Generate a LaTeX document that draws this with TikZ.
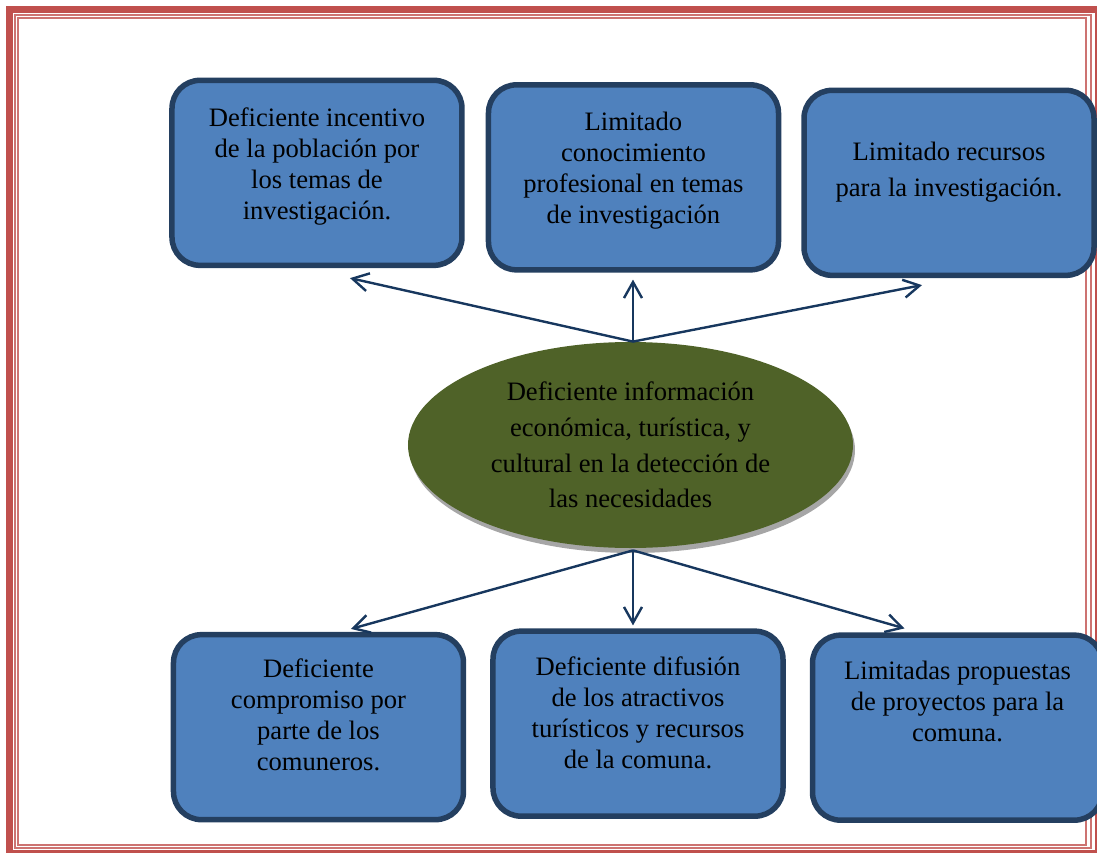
\documentclass[tikz,border=0pt]{standalone}
\usepackage{fontspec}
\setmainfont{Liberation Serif}
\usetikzlibrary{arrows.meta,positioning,shapes.geometric,shadows}
\definecolor{boxfill}{HTML}{4F81BD}
\definecolor{boxline}{HTML}{243F60}
\definecolor{olive}{HTML}{4F6228}
\definecolor{arrowblue}{HTML}{17375E}
\definecolor{framered}{HTML}{C0504D}
\tikzset{
  causebox/.style={
    draw=boxline, fill=boxfill, line width=2.75pt, rounded corners=14pt,
    minimum width=145pt, minimum height=92.5pt, align=center,
    font=\fontsize{13.3}{15.5}\selectfont, inner sep=0pt, text depth=#1,
  },
  causebox/.default=14pt,
  causeell/.style={
    ellipse, fill=olive, minimum width=222.5pt, minimum height=103pt,
    inner sep=0pt, align=center, font=\fontsize{13.3}{17.85}\selectfont,
    text depth=-4pt,
    drop shadow={shadow xshift=1pt, shadow yshift=-2.5pt, fill=black!35, opacity=1},
  },
  arrow/.style={-{Straight Barb[length=8pt,width=9pt]}, line width=1.2pt, color=arrowblue},
  framebar/.style={draw=framered, line width=#1},
}
\begin{document}
\begin{tikzpicture}
  \useasboundingbox (-315.25pt,-203.5pt) rectangle (233.25pt,222.5pt);

  % page frame
  \path[framebar=3.5pt] (-310.5pt,-204.25pt) rectangle (234pt,217.75pt);
  \path[framebar=0.9pt, draw=framered!80] (-307.75pt,-201.5pt) rectangle (230.25pt,215pt);
  \path[framebar=0.9pt, draw=framered!80] (-306.25pt,-200pt) rectangle (227.75pt,213.5pt);

  \node[causeell] (ell) at (0,0)
    {Deficiente información\\económica, turística, y\\cultural en la detección de\\las necesidades};

  % causes above
  \node[causebox=9.5pt, above=34.5pt of ell, xshift=1.5pt] (top2)
    {Limitado\\conocimiento\\profesional en temas\\de investigación};
  \node[causebox=9pt, left=10.5pt of top2, yshift=2.25pt] (top1)
    {Deficiente incentivo\\de la población por\\los temas de\\investigación.};
  \node[causebox=14pt, right=10pt of top2, yshift=-2.75pt,
    font=\fontsize{13.3}{18}\selectfont] (top3)
    {Limitado recursos\\para la investigación.};

  % effects below
  \node[causebox=11pt, below=40pt of ell, xshift=3.75pt] (bot2)
    {Deficiente difusión\\de los atractivos\\turísticos y recursos\\de la comuna.};
  \node[causebox=12.5pt, left=12pt of bot2, yshift=-1.75pt] (bot1)
    {Deficiente\\compromiso por\\parte de los\\comuneros.};
  \node[causebox=26pt, right=12pt of bot2, yshift=-2pt] (bot3)
    {Limitadas propuestas\\de proyectos para la\\comuna.};

  \coordinate (hubup) at ([xshift=1.25pt]ell.north);
  \coordinate (hubdown) at ([xshift=1.25pt,yshift=-1pt]ell.south);

  \draw[arrow] (hubup) -- ([xshift=16.5pt,yshift=-5pt]top1.south);
  \draw[arrow] (hubup) -- ([xshift=-0.25pt,yshift=-3.5pt]top2.south);
  \draw[arrow] (hubup) -- ([xshift=-13.5pt,yshift=-3.5pt]top3.south);
  \draw[arrow] (hubdown) -- ([xshift=16.25pt,yshift=1.5pt]bot1.north);
  \draw[arrow] (hubdown) -- ([xshift=-2.5pt,yshift=1.5pt]bot2.north);
  \draw[arrow] (hubdown) -- ([xshift=-26.5pt,yshift=2pt]bot3.north);

\end{tikzpicture}
\end{document}
